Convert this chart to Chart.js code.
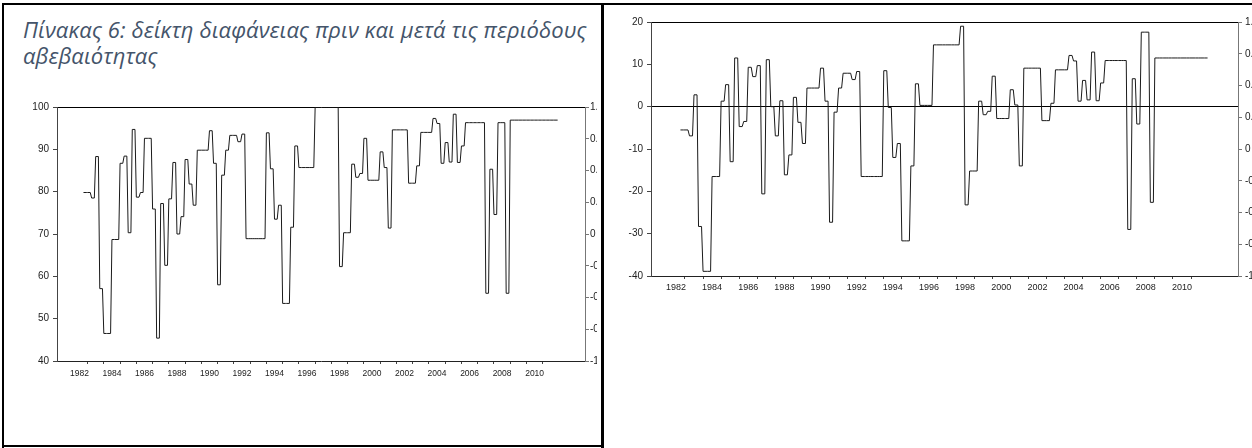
<!DOCTYPE html>
<html><head><meta charset="utf-8">
<script src="https://cdn.jsdelivr.net/npm/chart.js@4.4.1/dist/chart.umd.min.js"></script>
<style>
html,body{margin:0;padding:0;background:#fff;}
body{width:1252px;height:448px;overflow:hidden;position:relative;}
#title{position:absolute;left:23px;top:16px;font-family:"Open Sans",sans-serif;font-style:italic;font-size:22px;letter-spacing:0.1px;color:#44546A;line-height:26px;white-space:nowrap;}
.b{position:absolute;background:#000;}
#w1{position:absolute;left:3px;top:90px;width:594px;height:290px;overflow:hidden;}
#w2{position:absolute;left:606px;top:0px;width:646px;height:300px;overflow:hidden;}
</style></head><body>
<div id="title">Πίνακας 6: δείκτη διαφάνειας πριν και μετά τις περιόδους<br>αβεβαιότητας</div>
<div class="b" style="left:2px;top:3px;width:1250px;height:2px"></div>
<div class="b" style="left:2px;top:3px;width:2px;height:445px"></div>
<div class="b" style="left:601px;top:3px;width:3px;height:445px"></div>
<div class="b" style="left:2px;top:445px;width:602px;height:2px"></div>
<div id="w1"><canvas id="c1" width="594" height="290"></canvas></div>
<div id="w2"><canvas id="c2" width="646" height="300"></canvas></div>
<script>
// ---- data (quarterly, first period 1982Q4) ----
const firstYear = 1982;
const firstQuarter = 4;
const transparencyIndex = [
 79.8,79.8,78.5,88.3,57.1,46.5,46.5,68.7,68.7,86.7,
 88.4,70.3,94.7,78.7,79.8,92.6,92.6,75.9,45.4,77.2,
 62.6,78.3,86.9,70.0,74.1,87.6,81.8,76.8,89.8,89.8,
 89.8,94.4,86.7,58.0,83.9,89.8,93.3,93.3,91.8,93.6,
 68.9,68.9,68.9,68.9,68.9,93.9,85.4,73.5,76.8,53.6,
 53.6,71.6,90.8,85.7,85.7,85.7,85.7,100,100,100,
 100,100,100,62.3,70.3,70.3,86.5,83.4,84.3,92.6,
 82.7,82.7,82.7,89.4,85.7,71.4,94.6,94.6,94.6,94.6,
 82.0,82.0,86.1,94.0,94.0,94.0,97.3,96.1,86.7,91.6,
 87.0,98.3,86.9,90.8,96.3,96.3,96.3,96.3,96.3,56.0,
 85.3,74.6,96.3,96.3,56.0,96.9,96.9,96.9,96.9,96.9,
 96.9,96.9,96.9,96.9,96.9,96.9,96.9
];
const transparencyChange = [
 -5.5,-5.5,-6.9,2.8,-28.3,-38.9,-38.9,-16.5,-16.5,1.3,
 5.2,-13.0,11.5,-4.7,-3.5,9.3,7.1,9.7,-20.6,11.1,
 0,-6.9,1.4,-16.1,-11.4,2.2,-3.7,-8.7,4.4,4.4,
 4.4,9.1,1.3,-27.3,-1.3,4.4,7.9,7.9,6.4,8.3,
 -16.5,-16.5,-16.5,-16.5,-16.5,8.5,-0.2,-12.0,-8.7,-31.7,
 -31.7,-14.0,5.4,0.3,0.3,0.3,14.6,14.6,14.6,14.6,
 14.6,14.6,19.0,-23.2,-15.2,-15.2,1.3,-1.9,-1.1,7.2,
 -2.8,-2.8,-2.8,4.0,0.4,-14.0,9.1,9.1,9.1,9.1,
 -3.3,-3.3,0.8,8.7,8.7,8.7,12.1,10.8,1.3,6.2,
 1.6,12.9,1.4,5.6,10.9,10.9,10.9,10.9,10.9,-29.0,
 6.6,-4.1,17.6,17.6,-22.6,11.5,11.5,11.5,11.5,11.5,
 11.5,11.5,11.5,11.5,11.5,11.5,11.5
];
const yearLabels = ['1982','1984','1986','1988','1990','1992','1994','1996','1998','2000','2002','2004','2006','2008','2010'];
const tickYears = [1983,1984,1985,1986,1987,1988,1989,1990,1991,1992,1993,1994,1995,1996,1997,1998,1999,2000,2001,2002,2003,2004,2005,2006,2007,2008,2009,2010,2011];
const leftAxis1 = {min:40, max:100, step:10};
const leftAxis2 = {min:-40, max:20, step:10};
const rightAxis = {min:-1, max:1, step:0.25};

// each quarterly value is held for two months, then moves to the next one
function toPoints(vals){
  const pts=[];
  vals.forEach((v,k)=>{
    const t0 = firstYear + (firstQuarter-1)/4 + k/4;
    pts.push({x:t0,y:v},{x:t0+2/12,y:v});
  });
  return pts;
}

const FONT = "'Liberation Sans Narrow','Liberation Sans',Arial,sans-serif";

function makeChart(id, vals, yAx, geo){
  const labelPos = yearLabels.map(s=>Number(s)+0.5);
  return new Chart(document.getElementById(id), {
    type:'line',
    data:{datasets:[{data:toPoints(vals),borderColor:'#1a1a1a',borderWidth:1,pointRadius:0,tension:0,fill:false}]},
    options:{
      responsive:false, animation:false, devicePixelRatio:1,
      layout:{padding:{top:geo.top,left:0,right:0,bottom:0}},
      plugins:{legend:{display:false},tooltip:{enabled:false}},
      scales:{
        x:{type:'linear',position:'bottom',min:1981.12,max:2013.6,
          afterBuildTicks:(s)=>{const t=[];tickYears.forEach(v=>t.push({value:v}));labelPos.forEach(v=>t.push({value:v}));t.sort((a,b)=>a.value-b.value);s.ticks=t;},
          afterFit:(s)=>{s.height=geo.xh;},
          ticks:{autoSkip:false,maxRotation:0,minRotation:0,padding:geo.xpad,color:'#222',font:{family:FONT,size:geo.xfs},
            callback:(v)=>{const i=labelPos.findIndex(p=>Math.abs(p-v)<1e-6);return i>=0?yearLabels[i]:'';}},
          grid:{drawOnChartArea:false,drawTicks:true,tickLength:3,
            tickColor:(c)=>Number.isInteger(c.tick.value)?'#444':'rgba(0,0,0,0)'},
          border:{display:true,color:'#222',width:1}
        },
        y:{type:'linear',position:'left',min:yAx.min,max:yAx.max,
          afterFit:(s)=>{s.width=geo.yw;},
          ticks:{stepSize:yAx.step,padding:4,color:'#222',font:{family:FONT,size:10}},
          grid:{drawOnChartArea:true,drawTicks:true,tickLength:4,tickColor:'#444',
            color:(c)=>(c.tick.value===0||c.tick.value===yAx.max)?'#000':'rgba(0,0,0,0)'},
          border:{display:true,color:'#444',width:1}
        },
        y2:{type:'linear',position:'right',min:rightAxis.min,max:rightAxis.max,
          afterFit:(s)=>{s.width=geo.y2w;},
          ticks:{stepSize:rightAxis.step,padding:geo.y2pad,color:'#222',font:{family:FONT,size:10}},
          grid:{drawOnChartArea:false,drawTicks:true,tickLength:4,tickColor:'#777'},
          border:{display:true,color:'#777',width:1}
        }
      }
    }
  });
}

makeChart('c1', transparencyIndex, leftAxis1, {top:17, xh:19, xpad:5, xfs:8.5, yw:54, y2w:12, y2pad:1});
makeChart('c2', transparencyChange, leftAxis2, {top:22, xh:24, xpad:3, xfs:9, yw:45, y2w:14, y2pad:3});
</script>
</body></html>
